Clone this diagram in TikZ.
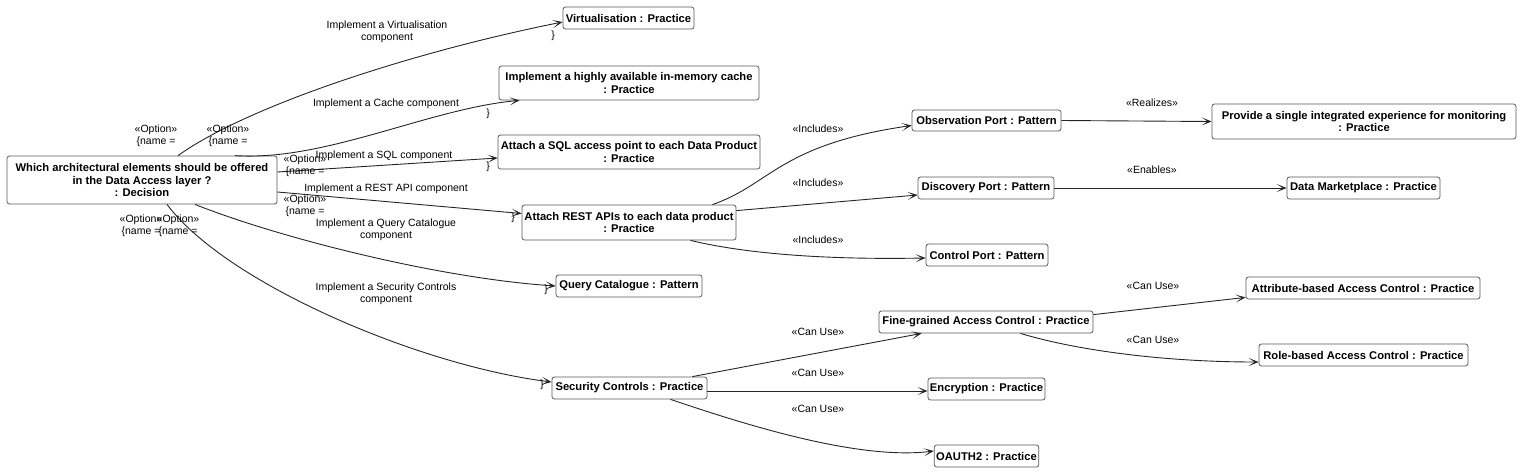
\documentclass[tikz,border=0pt]{standalone}
\usepackage{fontspec}
\setmainfont{Liberation Sans}
\usetikzlibrary{arrows.meta}

\tikzset{
  elem/.style={draw=black!65, line width=0.8pt, rounded corners=2.5pt, fill=white,
    font=\bfseries\fontsize{11.2}{12.8}\selectfont, align=center,
    inner xsep=2pt, inner ysep=2pt, minimum height=22pt},
  lbl/.style={font=\fontsize{10.5}{12.5}\selectfont, align=center, inner sep=0pt},
  rel/.style={draw=black!85, line width=0.9pt, -{Stealth[length=10pt,width=8pt,inset=6pt]}},
}

\begin{document}
\begin{tikzpicture}[x=1pt,y=1pt]
  \useasboundingbox (0,0) rectangle (1521,-472);

  % decision and options
  \node[elem, minimum width=270pt, minimum height=48pt] (dec) at (142,-180)
    {Which architectural elements should be offered\\in the Data Access layer ?\\: Decision};
  \node[elem, minimum width=131pt] (virt) at (628.5,-18) {Virtualisation : Practice};
  \node[elem, minimum width=260pt, minimum height=34pt] (cache) at (629,-83)
    {Implement a highly available in-memory cache\\: Practice};
  \node[elem, minimum width=262pt, minimum height=34pt] (sql) at (629,-152)
    {Attach a SQL access point to each Data Product\\: Practice};
  \node[elem, minimum width=214pt, minimum height=35pt] (rest) at (629,-222.5)
    {Attach REST APIs to each data product\\: Practice};
  \node[elem, minimum width=146pt] (query) at (629,-286) {Query Catalogue : Pattern};
  \node[elem, minimum width=155pt] (sec) at (629.5,-388) {Security Controls : Practice};

  % ports
  \node[elem, minimum width=149pt, minimum height=21pt] (obs) at (986.5,-120.5) {Observation Port : Pattern};
  \node[elem, minimum width=136pt] (disc) at (986,-188) {Discovery Port : Pattern};
  \node[elem, minimum width=122pt] (ctrl) at (987,-255) {Control Port : Pattern};
  \node[elem, minimum width=304pt, minimum height=35pt] (prov) at (1364,-121.5)
    {Provide a single integrated experience for monitoring\\: Practice};
  \node[elem, minimum width=153pt] (dm) at (1363.5,-188) {Data Marketplace : Practice};

  % security
  \node[elem, minimum width=214pt] (fine) at (986,-322) {Fine-grained Access Control : Practice};
  \node[elem, minimum width=117pt] (enc) at (986.5,-389) {Encryption : Practice};
  \node[elem, minimum width=103pt] (oauth) at (986.5,-456) {OAUTH2 : Practice};
  \node[elem, minimum width=234pt] (attr) at (1363,-288) {Attribute-based Access Control : Practice};
  \node[elem, minimum width=209pt] (role) at (1363.5,-355) {Role-based Access Control : Practice};

  % option edges
  \draw[rel] ([xshift=36pt]dec.north) .. controls +(70,50) and +(-150,-30) .. ([yshift=-4pt]virt.west);
  \draw[rel] ([xshift=93pt]dec.north) .. controls +(90,-6) and +(-90,-8) .. ([xshift=21pt]cache.south west);
  \draw[rel] ([yshift=8pt]dec.east) -- ([yshift=-6pt]sql.west);
  \draw[rel] ([yshift=-12pt]dec.east) -- ([yshift=9pt]rest.west);
  \draw[rel] ([xshift=53pt]dec.south) .. controls +(80,-32) and +(-120,8) .. (query.west);
  \draw[rel] ([xshift=25pt]dec.south) .. controls +(60,-80) and +(-130,16) .. ([yshift=6pt]sec.west);

  \node[lbl] (lv) at (387,-32) {Implement a Virtualisation\\component};
  \node[lbl] (ov) at (156,-136) {«Option»\\\{name =};
  \node[lbl] (bv) at (553,-36) {\}};
  \node[lbl] (lc) at (386,-104) {Implement a Cache component};
  \node[lbl] (oc) at (228,-136) {«Option»\\\{name =};
  \node[lbl] (bc) at (488,-114) {\}};
  \node[lbl] (ls) at (384,-156) {Implement a SQL component};
  \node[lbl] (os) at (305,-166) {«Option»\\\{name =};
  \node[lbl] (bs) at (488,-167) {\}};
  \node[lbl] (lr) at (386,-189) {Implement a REST API component};
  \node[lbl] (or) at (305,-206) {«Option»\\\{name =};
  \node[lbl] (br) at (513,-218) {\}};
  \node[lbl] (lq) at (386,-230) {Implement a Query Catalogue\\component};
  \node[lbl] (oq) at (141,-226) {«Option»\\\{name =};
  \node[lbl] (osec) at (178,-226) {«Option»\\\{name =};
  \node[lbl] (bq) at (546,-290) {\}};
  \node[lbl] (lsec) at (386,-294) {Implement a Security Controls\\component};
  \node[lbl] (bsec) at (542,-385) {\}};

  % includes
  \draw[rel] ([xshift=-24pt]rest.north east) .. controls +(58,20) and +(-132,-19) .. ([yshift=-5pt]obs.west);
  \draw[rel] ([yshift=-6pt]rest.north east) -- ([yshift=-7pt]disc.west);
  \draw[rel] ([xshift=-46pt]rest.south east) .. controls +(50,-12) and +(-110,-2) .. ([yshift=-3pt]ctrl.west);
  \draw[rel] (obs.east) -- (prov.west);
  \draw[rel] (disc.east) -- (dm.west);

  \node[lbl] (li1) at (818,-129) {«Includes»};
  \node[lbl] (li2) at (818,-183) {«Includes»};
  \node[lbl] (li3) at (818,-240) {«Includes»};
  \node[lbl] (lre) at (1152,-103) {«Realizes»};
  \node[lbl] (len) at (1152,-170) {«Enables»};

  % can use
  \draw[rel] ([xshift=-15pt]sec.north east) -- ([xshift=43pt]fine.south west);
  \draw[rel] ([yshift=-3pt]sec.east) -- ([yshift=-2pt]enc.west);
  \draw[rel] ([xshift=-37pt]sec.south east) .. controls +(60,-20) and +(-80,-10) .. ([yshift=5pt]oauth.west);
  \draw[rel] ([yshift=-4pt]fine.north east) -- ([yshift=2pt]attr.south west);
  \draw[rel] ([xshift=-73pt]fine.south east) .. controls +(60,-18) and +(-90,0) .. ([yshift=-7pt]role.west);

  \node[lbl] (lu1) at (818,-332) {«Can Use»};
  \node[lbl] (lu2) at (818,-373) {«Can Use»};
  \node[lbl] (lu3) at (818,-409) {«Can Use»};
  \node[lbl] (lu4) at (1153,-286) {«Can Use»};
  \node[lbl] (lu5) at (1153,-340) {«Can Use»};
\end{tikzpicture}
\end{document}
